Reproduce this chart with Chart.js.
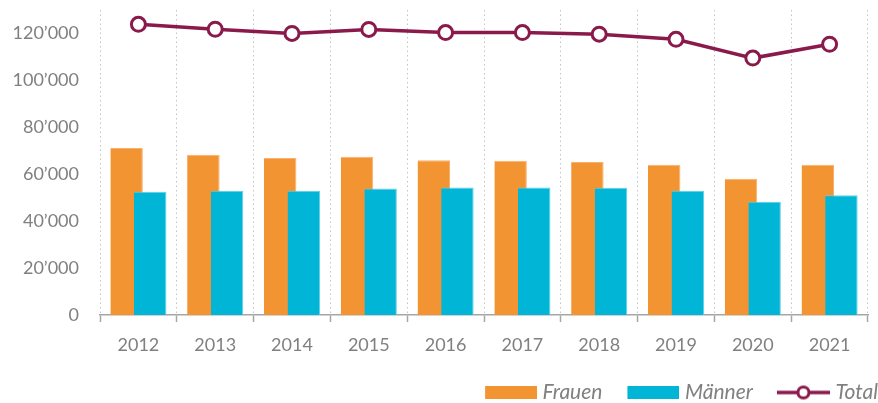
<!DOCTYPE html>
<html>
<head>
<meta charset="utf-8">
<script src="https://cdn.jsdelivr.net/npm/chart.js@4/dist/chart.umd.min.js"></script>
<style>
  html, body { margin: 0; padding: 0; background: #fff; }
  #wrap { width: 878px; height: 403px; position: relative; }
</style>
</head>
<body>
<div id="wrap"><canvas id="c"></canvas></div>
<script>
const years = ['2012','2013','2014','2015','2016','2017','2018','2019','2020','2021'];
const frauen = [71200, 68300, 66900, 67400, 66000, 65700, 65200, 64000, 58100, 64000];
const maenner = [52500, 53000, 53000, 53900, 54300, 54300, 54200, 53000, 48300, 51000];
const total = [123900, 121800, 120000, 121700, 120400, 120400, 119700, 117500, 109500, 115400];
const seriesNames = ['Frauen', 'Männer', 'Total'];
const yTickValues = [0, 20000, 40000, 60000, 80000, 100000, 120000];
const yMax = 130000;

const ORANGE = '#F39433';
const CYAN = '#00B5D6';
const MAROON = '#8A1A4B';
const GRAY = '#808080';

// legend icons: transparent lead-in on the left gives the spacing between items
function boxIcon(color) {
  const c = document.createElement('canvas');
  c.width = 82; c.height = 13;
  const ctx = c.getContext('2d');
  ctx.fillStyle = color;
  ctx.fillRect(30, 0, 52, 13);
  return c;
}
function lineIcon() {
  const c = document.createElement('canvas');
  c.width = 82; c.height = 18;
  const ctx = c.getContext('2d');
  ctx.strokeStyle = MAROON;
  ctx.lineWidth = 3.5;
  ctx.beginPath(); ctx.moveTo(29, 9); ctx.lineTo(82, 9); ctx.stroke();
  ctx.beginPath(); ctx.arc(55.5, 9, 5.5, 0, Math.PI * 2);
  ctx.fillStyle = '#fff'; ctx.fill();
  ctx.lineWidth = 3; ctx.stroke();
  return c;
}
const icons = [boxIcon(ORANGE), boxIcon(CYAN), lineIcon()];

// draw Männer bars over Frauen bars while keeping Frauen on the left
const drawOrderFix = {
  id: 'drawOrderFix',
  beforeDatasetDraw(chart, args) {
    if (args.index === 1 && !chart.$drawingM) return false;
  },
  afterDatasetDraw(chart, args) {
    if (args.index === 0) {
      chart.$drawingM = true;
      chart._drawDataset(chart.getDatasetMeta(1));
      chart.$drawingM = false;
    }
  }
};

const FONT = 'Lato, "Open Sans", sans-serif';

new Chart(document.getElementById('c'), {
  type: 'bar',
  plugins: [drawOrderFix],
  data: {
    labels: years,
    datasets: [
      { label: seriesNames[0], data: frauen, backgroundColor: ORANGE, borderColor: '#F7B06E', borderWidth: {top: 1, left: 0, right: 1, bottom: 0}, order: 1,
        categoryPercentage: 0.615, barPercentage: 1.375 },
      { label: seriesNames[1], data: maenner, backgroundColor: CYAN, borderColor: '#5FD0E6', borderWidth: {top: 1, left: 0, right: 1, bottom: 0}, order: 2,
        categoryPercentage: 0.615, barPercentage: 1.375 },
      { label: seriesNames[2], type: 'line', data: total, borderColor: MAROON, borderWidth: 3.5,
        pointRadius: 7, pointHoverRadius: 7, pointBorderWidth: 3, pointBackgroundColor: '#fff', pointBorderColor: MAROON,
        tension: 0, order: 0, clip: false }
    ]
  },
  options: {
    responsive: true,
    maintainAspectRatio: false,
    animation: false,
    layout: { padding: { top: 6, right: 0, left: 0, bottom: -10 } },
    plugins: {
      tooltip: { enabled: false },
      legend: {
        position: 'bottom',
        align: 'end',
        labels: {
          usePointStyle: true,
          pointStyleWidth: 72,
          boxHeight: 13,
          padding: 0,
          color: GRAY,
          font: { family: FONT, size: 21, style: 'italic' },
          generateLabels(chart) {
            const items = Chart.defaults.plugins.legend.labels.generateLabels(chart);
            items.sort((a, b) => a.datasetIndex - b.datasetIndex);
            items.forEach(it => { it.pointStyle = icons[it.datasetIndex]; it.fontColor = GRAY; });
            return items;
          }
        }
      }
    },
    scales: {
      x: {
        offset: true,
        grid: {
          display: true,
          offset: true,
          color: '#c4c4c4',
          drawTicks: true,
          tickLength: 7,
          tickColor: '#a6a6a6',
          tickBorderDash: [],
          tickWidth: 1.5
        },
        border: { display: true, color: '#a6a6a6', width: 1.5, dash: [1.5, 3] },
        ticks: { color: GRAY, font: { family: FONT, size: 18 }, padding: 12 },
        afterFit(scale) { scale.height = 67; }
      },
      y: {
        min: 0,
        max: yMax,
        grid: { display: false, drawTicks: false },
        border: { display: false },
        ticks: {
          padding: 21,
          color: GRAY,
          font: { family: FONT, size: 18 },
          callback: v => v === 0 ? '0' : String(v).replace(/\B(?=(\d{3})+(?!\d))/g, '’')
        },
        afterBuildTicks(scale) { scale.ticks = yTickValues.map(v => ({ value: v })); },
        afterFit(scale) { scale.width = 100; scale.paddingTop = 0; scale.paddingBottom = 0; }
      }
    }
  }
});
</script>
</body>
</html>
